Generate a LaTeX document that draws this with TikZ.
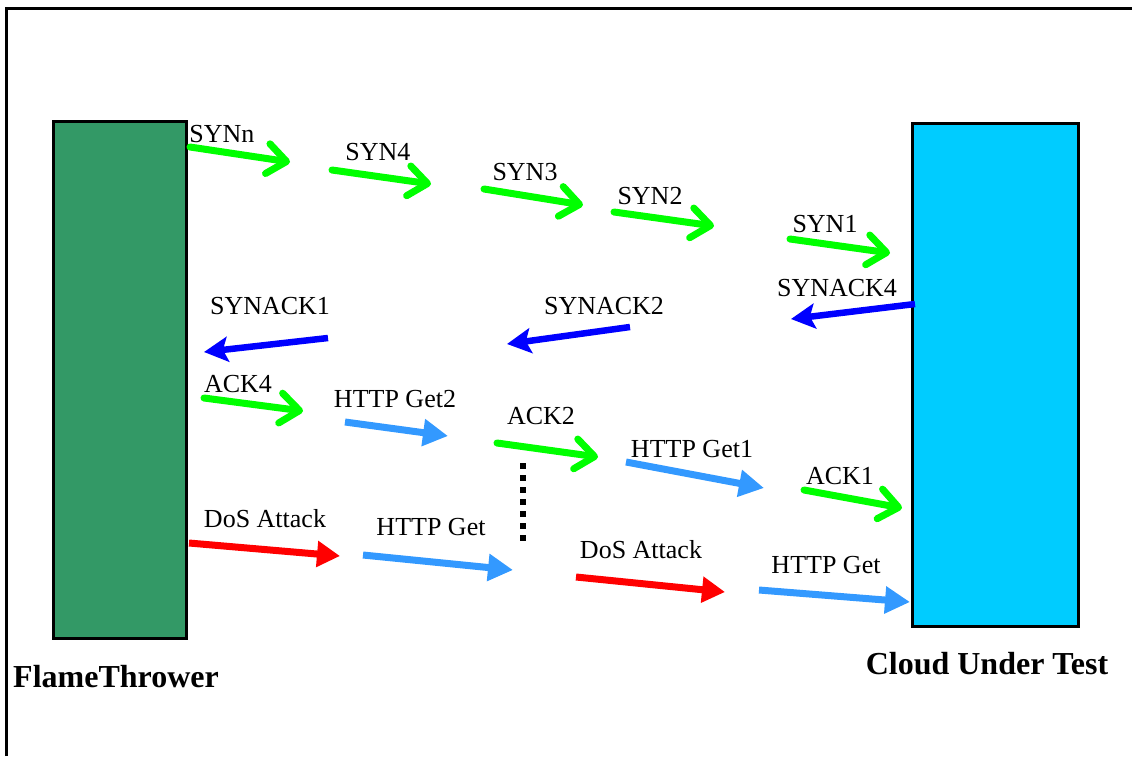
\documentclass[tikz,border=0pt]{standalone}
\usepackage{fontspec}
\setmainfont{Liberation Serif}
\usetikzlibrary{arrows.meta}
\definecolor{ftgreen}{HTML}{339966}
\definecolor{cloudcyan}{HTML}{00CCFF}
\definecolor{syngreen}{HTML}{00FF00}
\definecolor{ackblue}{HTML}{0000FF}
\definecolor{httpblue}{HTML}{3399FF}
\definecolor{dosred}{HTML}{FF0000}
\tikzset{
  lbl/.style={inset sep0, font=\fontsize{26}{28}\selectfont},
  inset sep0/.style={inner sep=0pt, outer sep=0pt},
  biglbl/.style={inner sep=0pt, font=\fontsize{32}{34}\selectfont\bfseries},
  host/.style={draw=black, line width=3pt},
  synarrow/.style={draw=syngreen, line width=7pt, line cap=round,
    -{Straight Barb[length=19pt,width=30pt,round]}},
  synackarrow/.style={draw=ackblue, line width=6.5pt,
    -{Stealth[length=24pt,width=25pt,inset=5pt]}},
  httparrow/.style={draw=httpblue, line width=7pt,
    -{Triangle[length=25pt,width=26pt]}},
  dosarrow/.style={draw=dosred, line width=7pt,
    -{Triangle[length=23pt,width=25pt]}},
}
\begin{document}
\begin{tikzpicture}[x=1pt, y={(0pt,-1pt)}]
\useasboundingbox (0,0) rectangle (1132,756);
% frame (left and top edges)
\draw[line width=3pt] (6,756) -- (6,8) -- (1132,8);
% hosts
\path[host, fill=ftgreen] (53,121) rectangle (186,638);
\path[host, fill=cloudcyan] (912,123) rectangle (1078,626);
\node[biglbl] (ft) at (116,677) {FlameThrower};
\node[biglbl] (cut) at (987,664) {Cloud Under Test};
% coordinates
\coordinate (sn1) at (190,147); \coordinate (sn2) at (290,162);
\coordinate (s41) at (332,170); \coordinate (s42) at (431,184);
\coordinate (s31) at (484,189); \coordinate (s32) at (583,205);
\coordinate (s21) at (614,212); \coordinate (s22) at (714,226);
\coordinate (s11) at (790,239); \coordinate (s12) at (890,253);
\coordinate (sa41) at (915,304); \coordinate (sa42) at (791,319);
\coordinate (sa21) at (630,327); \coordinate (sa22) at (507,344);
\coordinate (sa11) at (328,338); \coordinate (sa12) at (204,352);
\coordinate (a41) at (204,398); \coordinate (a42) at (303,411);
\coordinate (h21) at (345,422); \coordinate (h22) at (448,436);
\coordinate (a21) at (497,443); \coordinate (a22) at (598,457);
\coordinate (h11) at (626,462); \coordinate (h12) at (764,488);
\coordinate (a11) at (804,490); \coordinate (a12) at (902,508);
\coordinate (d11) at (189,543); \coordinate (d12) at (340,556);
\coordinate (g11) at (363,555); \coordinate (g12) at (513,570);
\coordinate (d21) at (576,577); \coordinate (d22) at (725,592);
\coordinate (g21) at (759,590); \coordinate (g22) at (910,602);
\coordinate (dot1) at (523,463); \coordinate (dot2) at (523,542);
% arrows
\draw[synarrow] (sn1) -- (sn2);
\draw[synarrow] (s41) -- (s42);
\draw[synarrow] (s31) -- (s32);
\draw[synarrow] (s21) -- (s22);
\draw[synarrow] (s11) -- (s12);
\draw[synackarrow] (sa41) -- (sa42);
\draw[synackarrow] (sa21) -- (sa22);
\draw[synackarrow] (sa11) -- (sa12);
\draw[synarrow] (a41) -- (a42);
\draw[httparrow] (h21) -- (h22);
\draw[synarrow] (a21) -- (a22);
\draw[httparrow] (h11) -- (h12);
\draw[synarrow] (a11) -- (a12);
\draw[dosarrow] (d11) -- (d12);
\draw[httparrow] (g11) -- (g12);
\draw[dosarrow] (d21) -- (d22);
\draw[httparrow] (g21) -- (g22);
\draw[line width=6.5pt, dash pattern=on 6pt off 6pt] (dot1) -- (dot2);
% labels
\node[lbl] (lsn) at (222,134) {SYNn};
\node[lbl] (ls4) at (378,152) {SYN4};
\node[lbl] (ls3) at (525,172) {SYN3};
\node[lbl] (ls2) at (650,196) {SYN2};
\node[lbl] (ls1) at (825,224) {SYN1};
\node[lbl] (lsa4) at (837,288) {SYNACK4};
\node[lbl] (lsa2) at (604,306) {SYNACK2};
\node[lbl] (lsa1) at (270,306) {SYNACK1};
\node[lbl] (la4) at (238,384) {ACK4};
\node[lbl] (lh2) at (395,399) {HTTP Get2};
\node[lbl] (la2) at (541,416) {ACK2};
\node[lbl] (lh1) at (692,449) {HTTP Get1};
\node[lbl] (la1) at (840,476) {ACK1};
\node[lbl] (ld1) at (265,519) {DoS Attack};
\node[lbl] (lg1) at (431,527) {HTTP Get};
\node[lbl] (ld2) at (641,550) {DoS Attack};
\node[lbl] (lg2) at (826,565) {HTTP Get};
\end{tikzpicture}
\end{document}
